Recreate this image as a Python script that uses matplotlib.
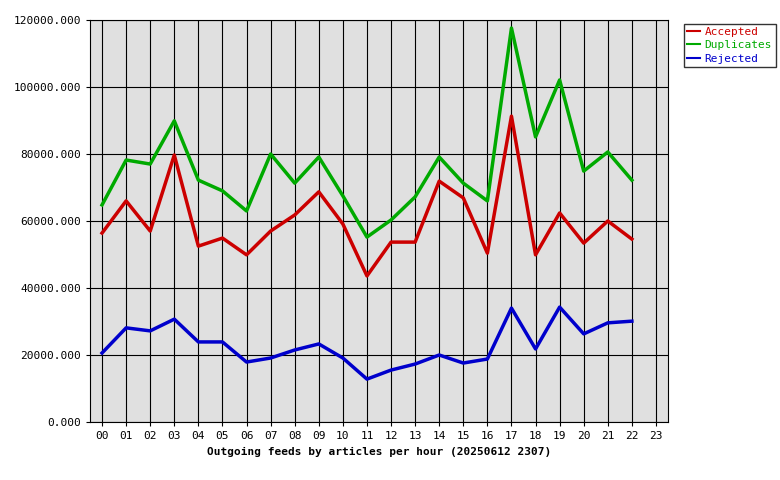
import matplotlib
matplotlib.use("Agg")
import matplotlib.pyplot as plt
from matplotlib.ticker import FuncFormatter

hours = ["%02d" % h for h in range(24)]
accepted = [56400, 66000, 57000, 79700, 52500, 54900, 49900, 57000, 61800, 68700, 59100, 43600,
            53700, 53700, 71900, 66900, 50400, 91300, 49900, 62400, 53400, 60000, 54600]
duplicates = [64800, 78200, 77000, 89900, 72200, 69000, 63000, 80000, 71300, 79100, 67500, 55200,
              60300, 67200, 79100, 71300, 66000, 117600, 85100, 102100, 74900, 80600, 72200]
rejected = [20600, 28100, 27200, 30700, 23900, 23900, 17900, 19100, 21500, 23300, 19100, 12800,
            15500, 17300, 20000, 17600, 18800, 34000, 21800, 34300, 26300, 29600, 30100]

plt.rcParams['font.family'] = ['DejaVu Sans Mono']
fig = plt.figure(figsize=(7.8, 4.8), dpi=100)
ax = fig.add_axes([90/780, 1-422/480, 578/780, 402/480])
ax.set_facecolor('#e0e0e0')
x = list(range(len(accepted)))
ax.plot(x, accepted, color='#cc0000', lw=2.5, label='Accepted')
ax.plot(x, duplicates, color='#00aa00', lw=2.5, label='Duplicates')
ax.plot(x, rejected, color='#0000cc', lw=2.5, label='Rejected')
ax.set_xlim(-0.5, 23.5)
ax.set_ylim(0, 120000)
ax.set_xticks(range(24))
ax.set_xticklabels(hours, fontsize=8)
ax.set_yticks(range(0, 120001, 20000))
ax.yaxis.set_major_formatter(FuncFormatter(lambda v, p: "%.3f" % v))
ax.tick_params(labelsize=8, length=3)
ax.grid(True, color='black', lw=0.8)
ax.set_axisbelow(True)
ax.set_xlabel("Outgoing feeds by articles per hour (20250612 2307)", fontsize=8, fontweight='bold')
leg = fig.legend(handles=ax.get_lines(), loc='upper left', bbox_to_anchor=(678/780, 1-18/480),
                 fontsize=8, frameon=True, fancybox=False, edgecolor='black', handlelength=1.2,
                 borderpad=0.3, labelspacing=0.3, handletextpad=0.4)
for t, l in zip(leg.get_texts(), leg.get_lines()):
    t.set_color(l.get_color())
    l.set_linewidth(1.5)
fig.savefig("out.png", dpi=100)
